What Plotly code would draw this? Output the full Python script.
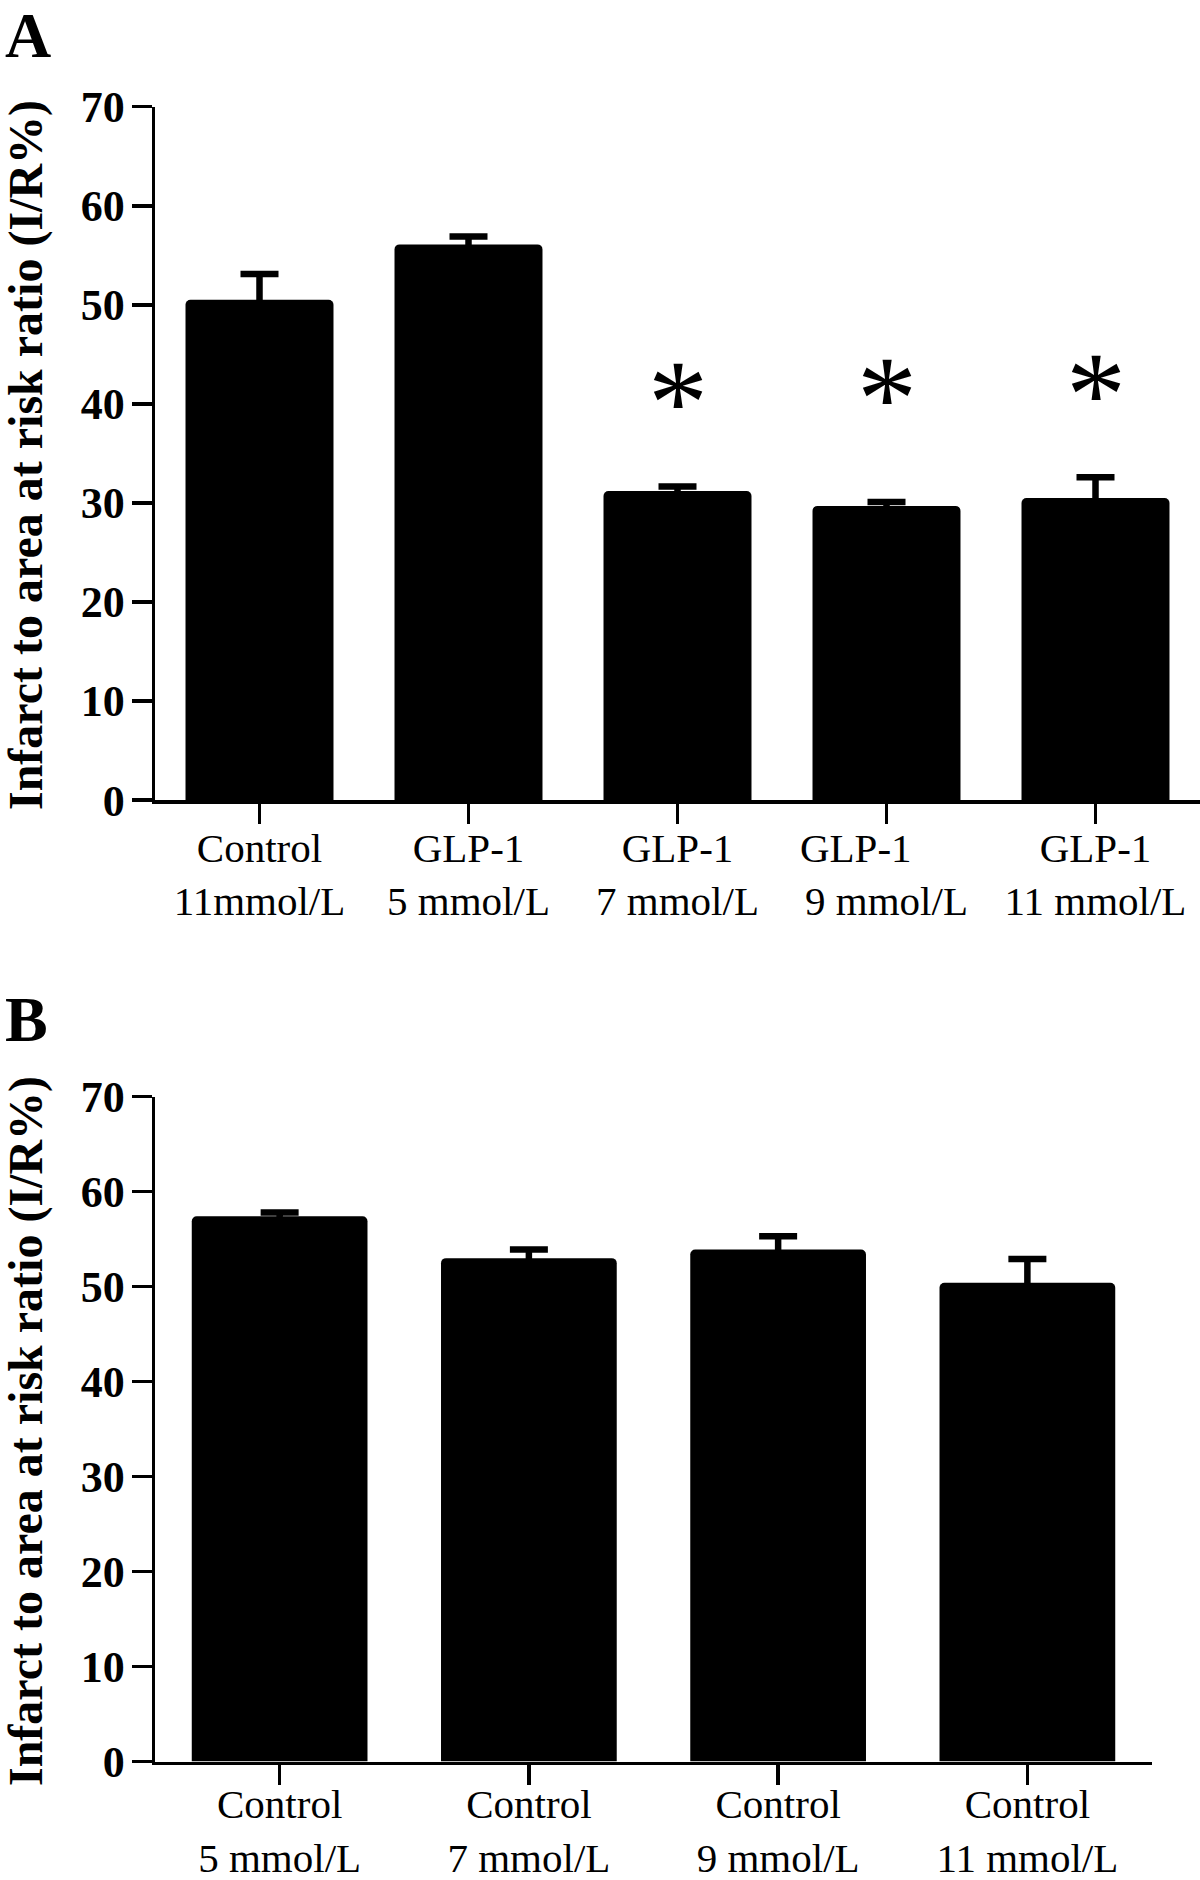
import plotly.graph_objects as go

# ---------------- data ----------------
cats_a = ["Control<br>11mmol/L", "GLP-1<br>5 mmol/L", "GLP-1<br>7 mmol/L",
          "GLP-1\u00a0\u00a0\u00a0\u00a0\u00a0\u00a0<br>9 mmol/L", "GLP-1<br>11 mmol/L"]
vals_a = [50.5, 56.1, 31.2, 29.7, 30.5]
err_a = [2.6, 0.8, 0.45, 0.4, 2.1]
star_a = [None, None, 40.1, 40.5, 40.9]   # y-position of significance marks

cats_b = ["Control<br>5 mmol/L", "Control<br>7 mmol/L", "Control<br>9 mmol/L", "Control<br>11 mmol/L"]
vals_b = [57.4, 53.0, 53.9, 50.4]
err_b = [0.4, 0.9, 1.4, 2.5]

y_ticks = [0, 10, 20, 30, 40, 50, 60, 70]
y_title = "Infarct to area at risk ratio (I/R%)"

W, H = 1200, 1880
SERIF = "Liberation Serif, Times New Roman, serif"

def px(x):
    return x / W

def py(y):
    return 1 - y / H

fig = go.Figure()

err_style = dict(type="data", symmetric=True, color="black", thickness=6.5, width=19)

fig.add_trace(go.Bar(x=cats_a, y=vals_a, width=0.708, marker=dict(color="black", line=dict(width=0), cornerradius=5),
                     error_y=dict(array=err_a, **err_style), xaxis="x", yaxis="y", showlegend=False,
                     hoverinfo="skip"))
fig.add_trace(go.Bar(x=cats_b, y=vals_b, width=0.705, marker=dict(color="black", line=dict(width=0), cornerradius=5),
                     error_y=dict(array=err_b, **err_style), xaxis="x2", yaxis="y2", showlegend=False,
                     hoverinfo="skip"))

axis_common = dict(showline=True, linecolor="black", linewidth=3.5, ticks="outside", ticklen=20,
                   tickwidth=3.5, tickcolor="black", showgrid=False, zeroline=False, automargin=False)

fig.update_layout(
    width=W, height=H, margin=dict(l=0, r=0, t=0, b=0),
    paper_bgcolor="white", plot_bgcolor="white",
    font=dict(family=SERIF, color="black"),
    xaxis=dict(domain=[px(155), 1.0], anchor="y", range=[-0.5, 4.5], type="category",
               tickfont=dict(size=41, family=SERIF), ticklabelstandoff=-11, **axis_common),
    yaxis=dict(domain=[py(800.1), py(106.7)], anchor="x", range=[0, 70], tickvals=y_ticks,
               tickfont=dict(size=44, family=SERIF, weight="bold"), ticklabelstandoff=-2, **axis_common),
    xaxis2=dict(domain=[px(155), px(1152)], anchor="y2", range=[-0.5, 3.5], type="category",
                tickfont=dict(size=41, family=SERIF), ticklabelstandoff=-16, **axis_common),
    yaxis2=dict(domain=[py(1761.5), py(1096.7)], anchor="x2", range=[0, 70], tickvals=y_ticks,
                tickfont=dict(size=44, family=SERIF, weight="bold"), ticklabelstandoff=-2, **axis_common),
)

ann = []
# significance asterisks
for c, s in zip(cats_a, star_a):
    if s is not None:
        ann.append(dict(x=c, y=s, xref="x", yref="y", text="*", showarrow=False,
                        xanchor="center", yanchor="middle", font=dict(size=120, family=SERIF)))
# panel letters
ann.append(dict(x=px(3), y=py(36), xref="paper", yref="paper", text="<b>A</b>", showarrow=False,
                xanchor="left", yanchor="middle", font=dict(size=64, family=SERIF)))
ann.append(dict(x=px(3), y=py(1020), xref="paper", yref="paper", text="<b>B</b>", showarrow=False,
                xanchor="left", yanchor="middle", font=dict(size=64, family=SERIF)))
# y titles
for yc in (455, 1431):
    ann.append(dict(x=px(26), y=py(yc), xref="paper", yref="paper", text="<b>" + y_title + "</b>",
                    textangle=-90, showarrow=False, xanchor="center", yanchor="middle",
                    font=dict(size=48, family=SERIF)))
fig.update_layout(annotations=ann)

fig.write_html("out.html", config={"displayModeBar": False, "staticPlot": True},
               post_script="document.body.style.margin='0';document.body.style.padding='0';"
                           "document.documentElement.style.overflow='hidden';")
